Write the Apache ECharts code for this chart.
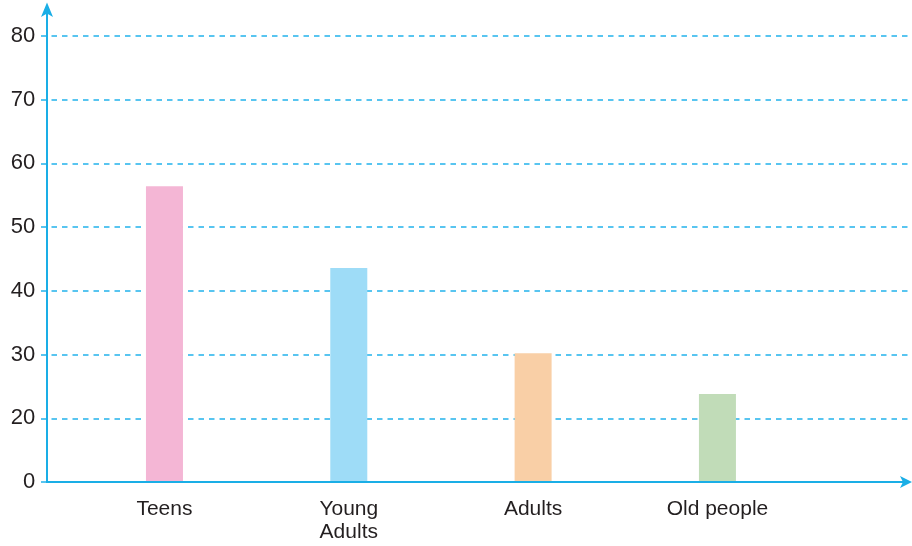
<!DOCTYPE html>
<html>
<head>
<meta charset="utf-8">
<script src="https://cdn.jsdelivr.net/npm/echarts@6/dist/echarts.min.js"></script>
<style>
html,body{margin:0;padding:0;background:#fff;}
#chart{width:912px;height:546px;}
</style>
</head>
<body>
<div id="chart"></div>
<script>
// Data
const categories = ['Teens', 'Young\nAdults', 'Adults', 'Old people'];
const values = [56.4, 43.6, 30.2, 23.8];
const barColors = ['#f4b6d5', '#9edcf7', '#f9cfa6', '#c1dcb8'];
// Axis bottom sits where the scale shows "0" (broken axis in original)
const yMin = 10, yMax = 80, yInterval = 10;
const yBaseLabel = '0';

const axisColor = '#1aaee6';
const gridColor = '#22b2ec';
const textColor = '#231f20';
const fontFam = 'Liberation Sans, Arial, sans-serif';

const chart = echarts.init(document.getElementById('chart'), null, {renderer: 'canvas'});
const option = {
  animation: false,
  backgroundColor: '#fff',
  grid: [
    {left: 72.3, right: 102.4, top: 36, bottom: 64},
    {left: 41, right: 0, top: 36, bottom: 64}
  ],
  xAxis: [{
    type: 'category',
    gridIndex: 0,
    data: categories,
    axisLine: {show: false},
    axisTick: {show: false},
    axisLabel: {
      color: textColor, fontSize: 21, fontFamily: fontFam,
      lineHeight: 23, margin: 16, interval: 0
    }
  }, {
    type: 'category', gridIndex: 1, data: categories, show: false
  }],
  yAxis: [{
    type: 'value',
    gridIndex: 0,
    min: yMin, max: yMax, interval: yInterval,
    axisLine: {show: false},
    axisTick: {show: false},
    axisLabel: {
      color: textColor, fontSize: 22, fontFamily: fontFam,
      margin: 37,
      formatter: function (v) { return v === yMin ? yBaseLabel : String(v); }
    },
    splitLine: {show: false}
  }, {
    type: 'value',
    gridIndex: 1,
    min: yMin, max: yMax, interval: yInterval,
    axisLine: {show: false},
    axisTick: {show: false},
    axisLabel: {show: false},
    splitLine: {show: true, lineStyle: {color: gridColor, width: 1.6, type: [5.5, 5]}}
  }],
  series: [{
    type: 'bar',
    xAxisIndex: 0, yAxisIndex: 0,
    barWidth: 37,
    z: 5,
    data: values.map((v, i) => ({value: v, itemStyle: {color: barColors[i]}}))
  }]
};
chart.setOption(option);

// Axis lines with arrowheads, anchored to the scale's baseline
const base = chart.convertToPixel({gridIndex: 0}, [0, yMin]);
const y0 = base[1];
const xAxisX = 47;
const W = 912;
chart.setOption({
  graphic: [
    {type: 'line', z: 10, shape: {x1: xAxisX, y1: y0, x2: W - 4, y2: y0}, style: {stroke: axisColor, lineWidth: 2}},
    {type: 'line', z: 10, shape: {x1: xAxisX, y1: y0 + 1, x2: xAxisX, y2: 6}, style: {stroke: axisColor, lineWidth: 2}},
    {type: 'polygon', z: 11, shape: {points: [[xAxisX, 2.5], [xAxisX - 6, 17], [xAxisX, 13.5], [xAxisX + 6, 17]]}, style: {fill: axisColor}},
    {type: 'polygon', z: 11, shape: {points: [[W, y0], [W - 12, y0 - 6], [W - 9, y0], [W - 12, y0 + 6]]}, style: {fill: axisColor}}
  ]
});
</script>
</body>
</html>
